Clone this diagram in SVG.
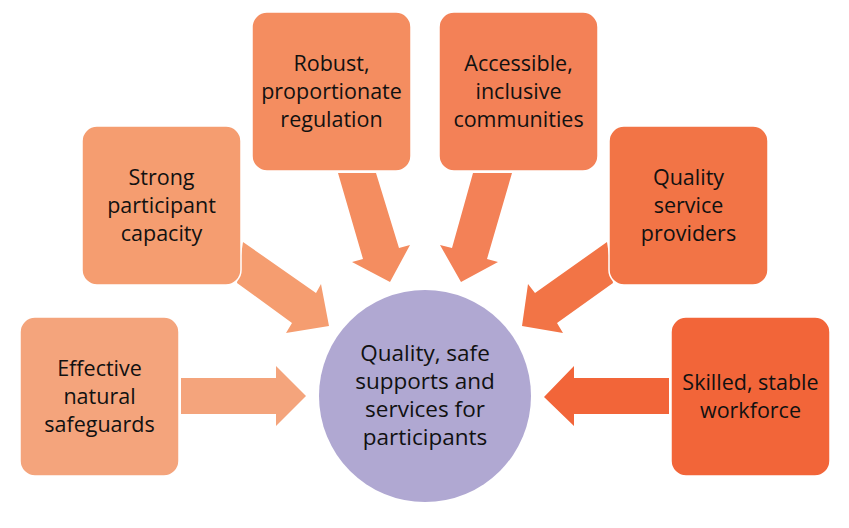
<svg xmlns="http://www.w3.org/2000/svg" width="849" height="528" viewBox="0 0 849 528">
<style>
.box{stroke:#fff;stroke-width:1.5}
.t{font-family:"Open Sans","Noto Sans","Liberation Sans",sans-serif;font-size:21.5px;fill:#111;text-anchor:middle}
.c{font-size:22.5px}
</style>
<rect width="849" height="528" fill="#fff"/>
<g id="connectors">
<polygon fill="#F4A47C" points="181,378 276,378 276,366 306,396 276,426 276,414 181,414"/>
<polygon fill="#F26539" points="669,378 574,378 574,366 544,397 574,426 574,414 669,414"/>
<polygon fill="#F59D70" points="243,242 316,293 321,284 329,326 286,333 292,323 237,283"/>
<polygon fill="#F48D60" points="338,173 376,173 399,248 410,245 390,282 352,262 363,259"/>
<polygon fill="#F38157" points="473,173 512,173 487,259 498,262 461,282 440,245 452,248"/>
<polygon fill="#F27446" points="607,242 535,293 528,284 522,326 563,333 557,323 613,283"/>
</g>
<g id="center">
<circle cx="425" cy="396" r="106" fill="#B0A8D2"/>
<text class="t c" x="425" y="361">Quality, safe</text>
<text class="t c" x="425" y="389">supports and</text>
<text class="t c" x="425" y="417">services for</text>
<text class="t c" x="425" y="445">participants</text>
</g>
<g id="n1">
<rect class="box" x="20" y="317" width="159" height="159" rx="15" fill="#F4A47C"/>
<text class="t" x="99.5" y="376">Effective</text>
<text class="t" x="99.5" y="404">natural</text>
<text class="t" x="99.5" y="432">safeguards</text>
</g>
<g id="n2">
<rect class="box" x="82" y="126" width="159" height="159" rx="15" fill="#F59D70"/>
<text class="t" x="161.5" y="185">Strong</text>
<text class="t" x="161.5" y="213">participant</text>
<text class="t" x="161.5" y="241">capacity</text>
</g>
<g id="n3">
<rect class="box" x="252" y="12" width="159" height="159" rx="15" fill="#F48D60"/>
<text class="t" x="331.5" y="71">Robust,</text>
<text class="t" x="331.5" y="99">proportionate</text>
<text class="t" x="331.5" y="127">regulation</text>
</g>
<g id="n4">
<rect class="box" x="439" y="12" width="159" height="159" rx="15" fill="#F38157"/>
<text class="t" x="518.5" y="71">Accessible,</text>
<text class="t" x="518.5" y="99">inclusive</text>
<text class="t" x="518.5" y="127">communities</text>
</g>
<g id="n5">
<rect class="box" x="609" y="126" width="159" height="159" rx="15" fill="#F27446"/>
<text class="t" x="688.5" y="185">Quality</text>
<text class="t" x="688.5" y="213">service</text>
<text class="t" x="688.5" y="241">providers</text>
</g>
<g id="n6">
<rect class="box" x="671" y="317" width="159" height="159" rx="15" fill="#F26539"/>
<text class="t" x="750.5" y="390">Skilled, stable</text>
<text class="t" x="750.5" y="418">workforce</text>
</g>
</svg>
